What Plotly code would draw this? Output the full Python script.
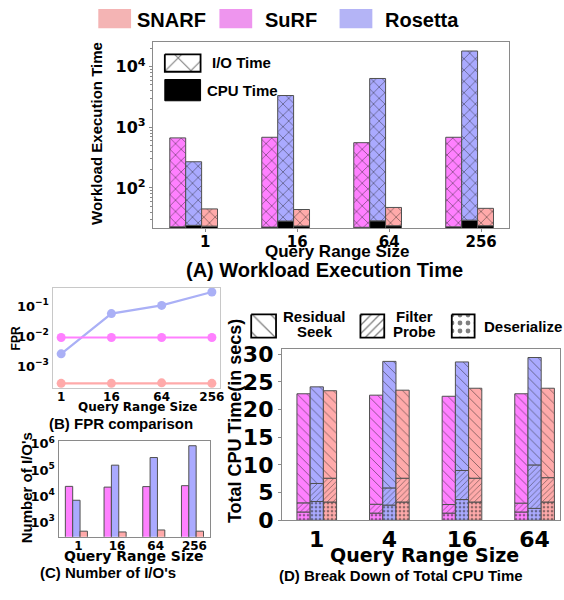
import numpy as np
import plotly.graph_objects as go

W, H = 564, 600

# ---------------- data ----------------
systems = ["SuRF", "Rosetta", "SNARF"]
bar_colors = {"SNARF": "#ffaaaa", "SuRF": "#ff80ff", "Rosetta": "#aaaaff"}
key_colors = {"SNARF": "#f4b4b4", "SuRF": "#ee95ee", "Rosetta": "#b4b4f6"}
line_colors = {"SNARF": "#ffaaaa", "SuRF": "#ff80ff", "Rosetta": "#aab0f6"}

range_sizes = ["1", "16", "64", "256"]
range_sizes_cpu = ["1", "4", "16", "64"]

# (A) workload execution time, seconds (CPU part + I/O part = total)
exec_total = {
    "SuRF": [668, 684, 557, 684],
    "Rosetta": [270, 3340, 6380, 18100],
    "SNARF": [45, 44, 47.6, 46],
}
exec_cpu = {
    "SuRF": [22.8, 22.6, 22.4, 22.8],
    "Rosetta": [24.1, 28.4, 28.6, 29.4],
    "SNARF": [23.4, 23.5, 23.8, 23.8],
}

# (B) false positive rate
fpr = {
    "SuRF": [0.0091, 0.0091, 0.0091, 0.0091],
    "Rosetta": [0.0026, 0.057, 0.107, 0.30],
    "SNARF": [0.00027, 0.00027, 0.00028, 0.00027],
}

# (C) number of I/Os
num_ios = {
    "SuRF": [23500, 22000, 23000, 25000],
    "Rosetta": [6900, 153000, 300000, 850000],
    "SNARF": [450, 420, 500, 450],
}

# (D) CPU time breakdown, seconds
deserialize = {
    "SuRF": [1.5, 1.3, 1.3, 1.5],
    "Rosetta": [3.4, 2.75, 3.75, 2.15],
    "SNARF": [3.3, 3.3, 3.3, 3.3],
}
filter_probe = {
    "SuRF": [1.65, 1.6, 1.55, 1.6],
    "Rosetta": [3.25, 3.1, 5.25, 7.85],
    "SNARF": [4.3, 4.3, 4.3, 4.4],
}
residual_seek = {
    "SuRF": [19.7, 19.7, 19.55, 19.75],
    "Rosetta": [17.45, 22.85, 19.6, 19.4],
    "SNARF": [15.8, 15.9, 16.25, 16.15],
}

# ---------------- helpers ----------------
def fx(x):
    return x / W


def fy(y):
    return 1 - y / H


TICK_FONT = "DejaVu Sans"
TEXT_FONT = "Liberation Sans"
EDGE = "#505050"
FRAME = "#8a8a8a"
groups = np.arange(4)

fig = go.Figure()

# ---------------- (A) execution time ----------------
wa = 0.173
for k, s in enumerate(systems):
    xs = groups + (k - 1) * wa
    cpu = np.array(exec_cpu[s])
    io = np.array(exec_total[s]) - cpu
    fig.add_trace(go.Bar(
        x=xs, y=cpu, width=wa, xaxis="x", yaxis="y",
        marker=dict(color="black", line=dict(color=EDGE, width=1)),
        showlegend=False,
    ))
    fig.add_trace(go.Bar(
        x=xs, y=io, base=cpu, width=wa, xaxis="x", yaxis="y",
        marker=dict(color=bar_colors[s], line=dict(color=EDGE, width=1),
                    pattern=dict(shape="x", fgcolor="#1a1a1a", size=8, solidity=0.2)),
        showlegend=False,
    ))

# ---------------- (B) FPR ----------------
for s in ["Rosetta", "SuRF", "SNARF"]:
    fig.add_trace(go.Scatter(
        x=groups, y=fpr[s], xaxis="x2", yaxis="y2", mode="lines+markers",
        line=dict(color=line_colors[s], width=2.2),
        marker=dict(color=line_colors[s], size=9),
        cliponaxis=False, showlegend=False,
    ))

# ---------------- (C) number of I/Os ----------------
wc = 0.19
for k, s in enumerate(systems):
    fig.add_trace(go.Bar(
        x=groups + (k - 1) * wc, y=num_ios[s], width=wc, xaxis="x3", yaxis="y3",
        marker=dict(color=bar_colors[s], line=dict(color=EDGE, width=1)),
        showlegend=False,
    ))

# ---------------- (D) CPU breakdown ----------------
wd = 0.182
for k, s in enumerate(systems):
    xs = groups + (k - 1) * wd
    d = np.array(deserialize[s])
    p = np.array(filter_probe[s])
    r = np.array(residual_seek[s])
    parts = [
        (d, 0 * d, ".", 4, 0.35),
        (p, d, "/", 4, 0.22),
        (r, d + p, "\\", 7, 0.14),
    ]
    for vals, base, shape, size, sol in parts:
        fig.add_trace(go.Bar(
            x=xs, y=vals, base=base, width=wd, xaxis="x4", yaxis="y4",
            marker=dict(color=bar_colors[s], line=dict(color=EDGE, width=1),
                        pattern=dict(shape=shape, fgcolor="#222222", size=size, solidity=sol)),
            showlegend=False,
        ))

# ---------------- legend keys (drawn on a pixel overlay) ----------------
def key_box(x0, x1, y0, y1, shape, size, sol, fill="white"):
    fig.add_trace(go.Scatter(
        x=[x0, x1, x1, x0, x0], y=[y0, y0, y1, y1, y0], xaxis="x5", yaxis="y5",
        mode="lines", fill="toself", fillcolor=fill,
        fillpattern=dict(shape=shape, size=size, solidity=sol, fgcolor="black", bgcolor=fill),
        line=dict(color="black", width=1.8), showlegend=False, hoverinfo="skip",
    ))


key_box(166, 202, 49, 67, "x", 18, 0.12)
key_box(253, 278, 318, 342, "\\", 13, 0.1)
key_box(363, 387, 318, 342, "/", 6, 0.22)
key_box(455, 478, 318, 342, ".", 8, 0.28)

shapes = []
for s, (x0, x1) in zip(["SNARF", "SuRF", "Rosetta"], [(99, 132), (221, 254), (342, 375)]):
    shapes.append(dict(type="rect", xref="paper", yref="paper",
                       x0=fx(x0), x1=fx(x1), y0=fy(22), y1=fy(2),
                       fillcolor=key_colors[s], line=dict(width=0)))
shapes.append(dict(type="rect", xref="paper", yref="paper",
                   x0=fx(166), x1=fx(202), y0=fy(97), y1=fy(75),
                   fillcolor="black", line=dict(color="black", width=1)))

# ---------------- text ----------------
annotations = []


def label(text, x, y, size, family=TEXT_FONT, xanchor="center", angle=0):
    annotations.append(dict(
        text=text, x=fx(x), y=fy(y), xref="paper", yref="paper",
        xanchor=xanchor, yanchor="middle", showarrow=False, textangle=angle,
        font=dict(family=family, size=size, color="black", weight="bold"),
    ))


label("SNARF", 136, 13, 20, xanchor="left")
label("SuRF", 265, 13, 20, xanchor="left")
label("Rosetta", 386, 13, 20, xanchor="left")

label("I/O Time", 212, 57, 15, xanchor="left")
label("CPU Time", 206, 86, 15, xanchor="left")
label("Workload Execution Time", 97, 131, 15, angle=-90)
label("Query Range Size", 340, 253, 17)
label("(A) Workload Execution Time", 327, 272, 20)

label("FPR", 16, 343, 12, angle=-90)
label("Query Range Size", 138, 414, 12, family=TICK_FONT)
label("(B) FPR comparison", 122, 431, 15)

label("Number of I/O's", 27, 497, 15, angle=-90)
label("Query Range Size", 134, 568, 14, family=TICK_FONT)
label("(C) Number of I/O's", 109, 585, 15)

label("Residual", 317, 320, 15)
label("Seek", 317, 336, 15)
label("Filter", 417, 320, 15)
label("Probe", 417, 336, 15)
label("Deserialize", 485, 331, 15, xanchor="left")
label("Total CPU Time(in secs)", 236, 428, 18, angle=-90)
label("Query Range Size", 428, 567, 19, family=TICK_FONT)
label("(D) Break Down of Total CPU Time", 404, 588, 15)

# ---------------- axes ----------------
def frame(**kw):
    base = dict(showline=True, mirror=True, linecolor=FRAME, linewidth=1.2,
                showgrid=False, zeroline=False, ticks="outside", ticklen=3,
                tickcolor=FRAME, fixedrange=True)
    base.update(kw)
    return base


def pow_text(vals):
    out = []
    for v in vals:
        e = int(round(np.log10(v)))
        out.append("10<sup>" + ("\u2212" if e < 0 else "") + str(abs(e)) + "</sup>")
    return out


a_ticks = [1e2, 1e3, 1e4]
a_minor = [m * 10 ** e for e in range(1, 5) for m in range(2, 10)]
b_ticks = [1e-3, 1e-2, 1e-1]
c_ticks = [1e3, 1e4, 1e5, 1e6]

fig.update_layout(
    width=W, height=H, autosize=False,
    margin=dict(l=0, r=0, t=0, b=0),
    paper_bgcolor="white", plot_bgcolor="rgba(0,0,0,0)",
    barmode="overlay", showlegend=False,
    shapes=shapes, annotations=annotations,
    xaxis=frame(domain=[fx(154), fx(513)], range=[-0.443, 3.432],
                tickmode="array", tickvals=groups + 0.125, ticktext=range_sizes,
                tickfont=dict(family=TICK_FONT, size=15, weight="bold", color="black"),
                ticklabelstandoff=-3, anchor="y"),
    yaxis=frame(domain=[fy(229), fy(36)], type="log", range=[np.log10(21.5), np.log10(25700)],
                tickmode="array", tickvals=a_ticks, ticktext=pow_text(a_ticks),
                tickfont=dict(family=TICK_FONT, size=16, weight="bold", color="black"),
                minor=dict(tickmode="array", tickvals=a_minor, ticks="outside",
                           ticklen=2, tickcolor=FRAME),
                anchor="x"),
    xaxis2=frame(domain=[fx(53), fx(222)], range=[-0.17, 3.17], linecolor="#c8c8c8",
                 tickmode="array", tickvals=groups, ticktext=range_sizes,
                 tickfont=dict(family=TICK_FONT, size=12, weight="bold", color="black"),
                 ticks="", ticklabelstandoff=-2, anchor="y2"),
    yaxis2=frame(domain=[fy(394), fy(291)], type="log", range=[-3.72, -0.40],
                 linecolor="#c8c8c8",
                 tickmode="array", tickvals=b_ticks, ticktext=pow_text(b_ticks),
                 tickfont=dict(family=TICK_FONT, size=13, weight="bold", color="black"),
                 ticks="", anchor="x2"),
    xaxis3=frame(domain=[fx(59), fx(211)], range=[-0.46, 3.44],
                 tickmode="array", tickvals=groups + 0.05, ticktext=range_sizes,
                 tickfont=dict(family=TICK_FONT, size=12, weight="bold", color="black"),
                 ticks="", ticklabelstandoff=-2, anchor="y3"),
    yaxis3=frame(domain=[fy(548), fy(449)], type="log", range=[2.44, 6.11],
                 tickmode="array", tickvals=c_ticks, ticktext=pow_text(c_ticks),
                 tickfont=dict(family=TICK_FONT, size=13, weight="bold", color="black"),
                 ticks="", anchor="x3"),
    xaxis4=frame(domain=[fx(284), 1.0], range=[-0.479, 3.35],
                 tickmode="array", tickvals=groups, ticktext=range_sizes_cpu,
                 tickfont=dict(family=TICK_FONT, size=22, weight="bold", color="black"),
                 ticks="", ticklabelstandoff=-1, anchor="y4"),
    yaxis4=frame(domain=[fy(531), fy(354)], range=[0, 30.9], tickmode="linear",
                 tick0=0, dtick=5,
                 tickfont=dict(family=TICK_FONT, size=22, weight="bold", color="black"),
                 anchor="x4"),
    xaxis5=dict(domain=[0, 1], range=[0, W], visible=False, fixedrange=True, anchor="y5"),
    yaxis5=dict(domain=[0, 1], range=[H, 0], visible=False, fixedrange=True, anchor="x5"),
)

fig.write_html("out.html")
